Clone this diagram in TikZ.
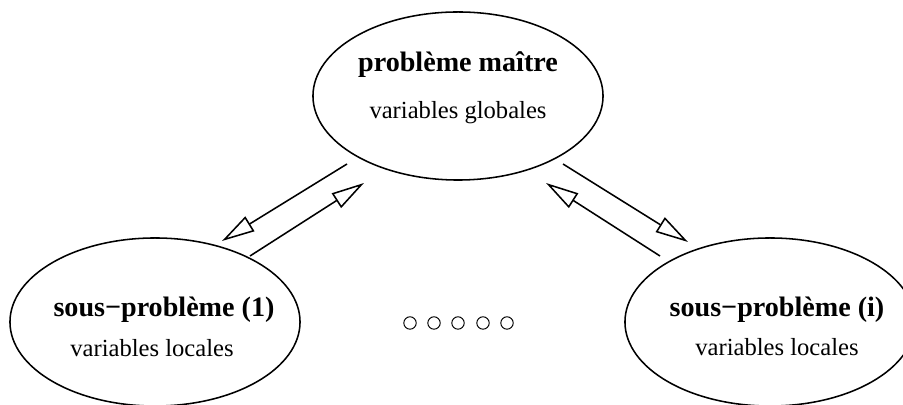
\documentclass[tikz,border=0pt]{standalone}
\usepackage{fontspec}
\setmainfont{Liberation Serif}
\usetikzlibrary{arrows.meta,shapes.geometric}
\tikzset{
  probEllipse/.style={draw, ellipse, line width=1.1pt, minimum width=7.25cm, minimum height=4.2cm, inner sep=0pt},
  titleText/.style={font=\fontsize{20}{24}\selectfont\bfseries},
  varText/.style={font=\fontsize{17.5}{21}\selectfont},
  exchange/.style={line width=1.1pt, -{Triangle[open, length=0.82cm, width=0.43cm]}},
  dotCircle/.style={draw, circle, line width=0.7pt, minimum size=0.31cm, inner sep=0pt}
}

\begin{document}
\begin{tikzpicture}[x=0.025cm, y=-0.025cm]
  \useasboundingbox (0,0) rectangle (903,405);
  \clip (0,0) rectangle (903,405);

  % 1. master problem
  \node[probEllipse] (master) at (458,96) {};
  \node[titleText] (masterTitle) at (458,65) {problème maître};
  \node[varText] (masterVars) at (458,113) {variables globales};

  % 2. sub-problem (1)
  \node[probEllipse] (subOne) at (155,322) {};
  \node[titleText] (subOneTitle) at (164,310) {sous−problème (1)};
  \node[varText] (subOneVars) at (152,348) {variables locales};

  % 3. sub-problem (i)
  \node[probEllipse] (subI) at (770,322) {};
  \node[titleText] (subITitle) at (777,310) {sous−problème (i)};
  \node[varText] (subIVars) at (777,347) {variables locales};

  % 4. dots between the sub-problems
  \foreach \k/\xx in {1/410,2/434,3/458,4/483,5/507}
    \node[dotCircle] (dot\k) at (\xx,323) {};

  % 5. exchanges, left pair
  \coordinate (mLeftA) at (347,164);
  \coordinate (sOneA) at (222,241);
  \coordinate (sOneB) at (250,256);
  \coordinate (mLeftB) at (364,183);
  \draw[exchange] (mLeftA) -- (sOneA);
  \draw[exchange] (sOneB) -- (mLeftB);

  % 6. exchanges, right pair
  \coordinate (mRightA) at (563,164);
  \coordinate (sIA) at (688,242);
  \coordinate (sIB) at (660,256);
  \coordinate (mRightB) at (546,183);
  \draw[exchange] (mRightA) -- (sIA);
  \draw[exchange] (sIB) -- (mRightB);
\end{tikzpicture}
\end{document}
